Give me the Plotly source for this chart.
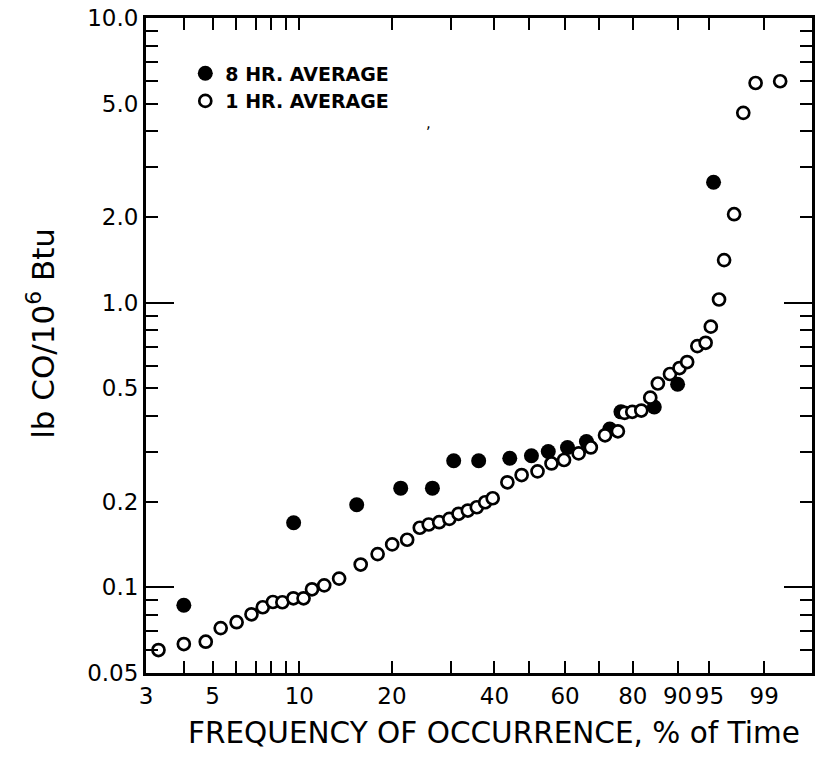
import numpy as np
import plotly.graph_objects as go

# ---- axis scale (percent of time) as printed on the reference chart ----
SCALE_PCT = [3, 4, 5, 6, 7, 8, 9, 10, 20, 30, 40, 50, 60, 70, 80, 90, 95, 99, 99.9]
SCALE_POS = [0.0, 0.0568, 0.1001, 0.1345, 0.1659, 0.1883, 0.2108, 0.2302, 0.3692,
             0.4574, 0.5232, 0.5755, 0.6293, 0.6801, 0.7309, 0.7982, 0.8460, 0.9283, 1.0]

X_TICKS = [3, 4, 5, 6, 7, 8, 9, 10, 20, 30, 40, 50, 60, 70, 80, 90, 95, 99]
X_TICK_LABELS = ["3", "", "5", "", "", "", "", "10", "20", "", "40", "", "60", "",
                 "80", "90", "95", "99"]

Y_TICKS = [0.05, 0.06, 0.07, 0.08, 0.09, 0.1, 0.2, 0.3, 0.4, 0.5, 0.6, 0.7, 0.8, 0.9,
           1, 2, 3, 4, 5, 6, 7, 8, 9, 10]
Y_LABELED = {0.05: "0.05", 0.1: "0.1", 0.2: "0.2", 0.5: "0.5", 1: "1.0", 2: "2.0",
             5: "5.0", 10: "10.0"}
Y_DECADES = [0.1, 1, 10]

# ---- data: 8 hr average (filled) ----
avg8_pct = [4.0, 9.56, 16.2, 21.5, 26.9, 30.7, 36.4, 44.4, 50.6, 55.3, 60.7, 66.3,
            73.2, 76.5, 84.8, 90.0, 95.3]
avg8_val = [0.0865, 0.1685, 0.195, 0.223, 0.223, 0.2785, 0.2785, 0.284, 0.290, 0.300,
            0.310, 0.325, 0.360, 0.4135, 0.430, 0.517, 2.65]

# ---- data: 1 hr average (open) ----
avg1_pct = [3.33, 4.0, 4.76, 5.35, 6.05, 6.76, 7.42, 8.1, 8.73, 9.54, 10.46, 11.37,
            12.69, 14.3, 16.63, 18.46, 20.05, 22.6, 24.75, 26.27, 28.05, 29.78, 31.8,
            33.93, 35.98, 37.89, 39.6, 43.71, 47.8, 52.3, 56.2, 59.7, 64.0, 67.6, 71.8,
            75.6, 77.6, 79.85, 81.9, 83.9, 85.6, 88.3, 90.3, 91.5, 93.1, 94.4, 95.1,
            95.7, 96.07, 96.8, 97.47, 98.37, 99.3]
avg1_val = [0.0602, 0.0632, 0.0644, 0.0719, 0.0754, 0.0804, 0.0851, 0.0888, 0.0886,
            0.0915, 0.0915, 0.0984, 0.1016, 0.1073, 0.1202, 0.1308, 0.1415, 0.1469,
            0.1619, 0.1662, 0.1693, 0.1740, 0.1812, 0.1861, 0.1911, 0.1990, 0.2055,
            0.2338, 0.248, 0.2555, 0.2724, 0.2801, 0.2954, 0.3100, 0.342, 0.3532,
            0.410, 0.4135, 0.4178, 0.4638, 0.520, 0.5615, 0.5893, 0.6184, 0.7037,
            0.7228, 0.8235, 1.026, 1.411, 2.045, 4.643, 5.912, 5.995]


def prob_scale(p):
    return np.interp(np.asarray(p, dtype=float), SCALE_PCT, SCALE_POS)


FONT = "DejaVu Sans"

fig = go.Figure()
fig.add_trace(go.Scatter(
    x=prob_scale(avg8_pct), y=avg8_val, mode="markers", name="8 HR. AVERAGE",
    marker=dict(symbol="circle", size=15, color="black", line=dict(width=0)),
))
fig.add_trace(go.Scatter(
    x=prob_scale(avg1_pct), y=avg1_val, mode="markers", name="1 HR. AVERAGE",
    marker=dict(symbol="circle", size=12, color="white",
                line=dict(color="black", width=2.7)),
))
# invisible helper trace on the second y axis (for the long decade ticks)
fig.add_trace(go.Scatter(x=[None], y=[None], yaxis="y2", showlegend=False,
                         hoverinfo="skip"))

fig.update_layout(
    width=820, height=758,
    margin=dict(l=146, r=5, t=16, b=85),
    paper_bgcolor="white", plot_bgcolor="white",
    showlegend=True,
    legend=dict(x=0.059, y=0.9445, xanchor="left", yanchor="top",
                bgcolor="rgba(0,0,0,0)", borderwidth=0,
                font=dict(family=FONT, size=19, color="black", weight="bold"),
                itemsizing="trace", tracegroupgap=0),
    xaxis=dict(
        range=[0, 1], showgrid=False, zeroline=False,
        tickmode="array", tickvals=prob_scale(X_TICKS), ticktext=X_TICK_LABELS,
        ticks="inside", ticklen=12, tickwidth=2, tickcolor="black",
        showline=True, linewidth=3, linecolor="black", mirror="ticks",
        tickfont=dict(family=FONT, size=23, color="black"),
        ticklabeloverflow="allow",
    ),
    yaxis=dict(
        type="log", range=[np.log10(0.05), 1], showgrid=False, zeroline=False,
        tickmode="array", tickvals=Y_TICKS,
        ticktext=[Y_LABELED.get(v, "") for v in Y_TICKS],
        ticks="inside", ticklen=12, tickwidth=2, tickcolor="black",
        showline=True, linewidth=3, linecolor="black", mirror="ticks",
        tickfont=dict(family=FONT, size=23, color="black"),
        ticklabeloverflow="allow",
    ),
    yaxis2=dict(
        type="log", range=[np.log10(0.05), 1], overlaying="y", anchor="x",
        showgrid=False, zeroline=False, showline=False, showticklabels=False,
        tickmode="array", tickvals=Y_DECADES,
        ticks="inside", ticklen=28, tickwidth=2, tickcolor="black", mirror="ticks",
        side="left",
    ),
    annotations=[
        dict(text="FREQUENCY OF OCCURRENCE, % of Time", xref="paper", yref="paper",
             x=0.523, y=-0.091, xanchor="center", yanchor="middle", showarrow=False,
             font=dict(family=FONT, size=29.5, color="black")),
        dict(text="lb CO/10<sup>6</sup> Btu", xref="paper", yref="paper",
             x=-0.158, y=0.519, xanchor="center", yanchor="middle", showarrow=False,
             textangle=-90, font=dict(family=FONT, size=31, color="black")),
        dict(text=",", xref="paper", yref="paper", x=0.4245, y=0.857,
             showarrow=False, font=dict(family=FONT, size=15, color="black")),
    ],
)

fig.write_html("out.html", config={"displayModeBar": False},
               post_script="document.body.style.margin='0px';")
